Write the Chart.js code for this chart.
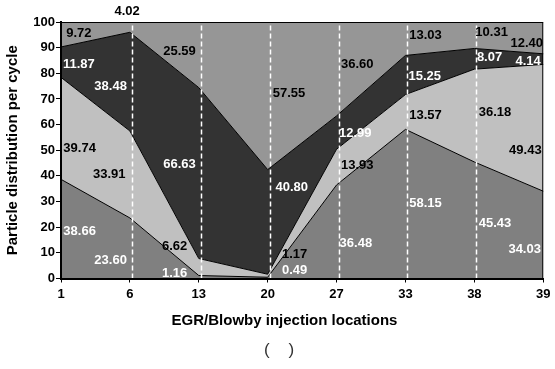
<!DOCTYPE html>
<html>
<head>
<meta charset="utf-8">
<script src="https://cdn.jsdelivr.net/npm/chart.js@4/dist/chart.umd.min.js"></script>
<style>
  body { margin: 0; background: #fff; }
  #wrap { width: 555px; height: 369px; }
</style>
</head>
<body>
<div id="wrap"><canvas id="particleChart" width="555" height="369"></canvas></div>
<script>
// injection locations (x categories)
const locations = ["1", "6", "13", "20", "27", "33", "38", "39"];

// stacked shares per location, bottom to top
const seriesA = [38.66, 23.60, 1.16, 0.49, 36.48, 58.15, 45.43, 34.03];
const seriesB = [39.74, 33.91, 6.62, 1.17, 13.93, 13.57, 36.18, 49.43];
const seriesC = [11.87, 38.48, 66.63, 40.80, 12.99, 15.25, 8.07, 4.14];
const seriesD = [9.72, 4.02, 25.59, 57.55, 36.60, 13.03, 10.31, 12.40];

const yMin = 0, yMax = 100, yStep = 10;

// where each value label sits: [category index, y value]
const labelAtA = [[0.27, 18.5], [0.72, 7.2], [1.65, 2.1], [3.39, 3.3], [4.28, 13.5], [5.29, 29.4], [6.30, 21.6], [6.73, 11.5]];
const labelAtB = [[0.27, 50.9], [0.70, 40.4], [1.65, 12.7], [3.39, 9.2], [4.30, 43.9], [5.29, 63.4], [6.30, 64.9], [6.74, 50.1]];
const labelAtC = [[0.26, 83.6], [0.72, 74.7], [1.72, 44.6], [3.35, 35.7], [4.27, 56.7], [5.28, 78.6], [6.22, 86.0], [6.78, 84.8]];
const labelAtD = [[0.26, 95.7], [0.96, 104.3], [1.72, 88.7], [3.31, 72.3], [4.30, 83.6], [5.29, 94.9], [6.25, 96.1], [6.76, 91.8]];

const FONT = "'Liberation Sans', Arial, sans-serif";
Chart.defaults.font.family = FONT;

// dashed white guides, value labels, frame, x title and caption
const overlay = {
    id: "overlay",
    afterDatasetsDraw(chart) {
        const ctx = chart.ctx, area = chart.chartArea, x = chart.scales.x;
        ctx.save();
        ctx.strokeStyle = "#fff";
        ctx.lineWidth = 1.5;
        ctx.setLineDash([5, 3]);
        for (let i = 1; i < locations.length - 1; i++) {
            const px = Math.round(x.getPixelForValue(i)) + 2.5;
            ctx.beginPath();
            ctx.moveTo(px, area.bottom);
            ctx.lineTo(px, area.top);
            ctx.stroke();
        }
        ctx.restore();
    },
    afterDraw(chart) {
        const ctx = chart.ctx, area = chart.chartArea;
        const x = chart.scales.x, y = chart.scales.y;
        ctx.save();
        ctx.strokeStyle = "#000";
        ctx.lineWidth = 1;
        ctx.strokeRect(area.left, area.top + 0.5, area.right - area.left - 0.5, area.bottom - area.top);

        ctx.font = "bold 13px " + FONT;
        ctx.textAlign = "center";
        ctx.textBaseline = "middle";
        chart.data.datasets.forEach(ds => {
            ctx.fillStyle = ds.labelColor;
            ds.data.forEach((v, i) => {
                const [ix, iy] = ds.labelAt[i];
                ctx.fillText(v.toFixed(2), x.getPixelForValue(ix), y.getPixelForValue(iy));
            });
        });

        ctx.fillStyle = "#000";
        ctx.font = "bold 15px " + FONT;
        ctx.fillText("EGR/Blowby injection locations", 284.5, 321);
        ctx.fillStyle = "#333";
        ctx.font = "17px " + FONT;
        ctx.fillText("(    )", 279, 350);
        ctx.restore();
    }
};

function band(label, data, color, fill, labelAt, labelColor) {
    return {
        label, data, fill, labelAt, labelColor,
        backgroundColor: color,
        borderColor: "#000",
        borderWidth: 1,
        pointRadius: 0,
        tension: 0
    };
}

new Chart(document.getElementById("particleChart"), {
    type: "line",
    data: {
        labels: locations,
        datasets: [
            band("A", seriesA, "#808080", "origin", labelAtA, "#fff"),
            band("B", seriesB, "#c0c0c0", "-1", labelAtB, "#000"),
            band("C", seriesC, "#333333", "-1", labelAtC, "#fff"),
            band("D", seriesD, "#969696", "-1", labelAtD, "#000")
        ]
    },
    options: {
        responsive: false,
        animation: false,
        layout: { padding: { top: 22, right: 7, left: 0, bottom: 68.5 } },
        plugins: { legend: { display: false }, tooltip: { enabled: false } },
        scales: {
            x: {
                offset: false,
                afterFit: s => { s.height = 22; },
                grid: { drawOnChartArea: false, tickLength: 4, color: "#000", z: 1 },
                border: { color: "#000", width: 2, z: 1 },
                ticks: { color: "#000", font: { size: 13, weight: "bold" }, padding: 4.5, maxRotation: 0, z: 1 }
            },
            y: {
                stacked: true,
                min: yMin,
                max: yMax,
                afterFit: s => { s.width = 61; },
                grid: { drawOnChartArea: false, tickLength: 5, color: "#000", z: 1 },
                border: { color: "#000", width: 2, z: 1 },
                ticks: { stepSize: yStep, color: "#000", font: { size: 13, weight: "bold" }, padding: 1, z: 1 },
                title: {
                    display: true,
                    text: "Particle distribution per cycle",
                    color: "#000",
                    font: { size: 15, weight: "bold" },
                    padding: { top: 4, bottom: 0 }
                }
            }
        }
    },
    plugins: [overlay]
});
</script>
</body>
</html>
